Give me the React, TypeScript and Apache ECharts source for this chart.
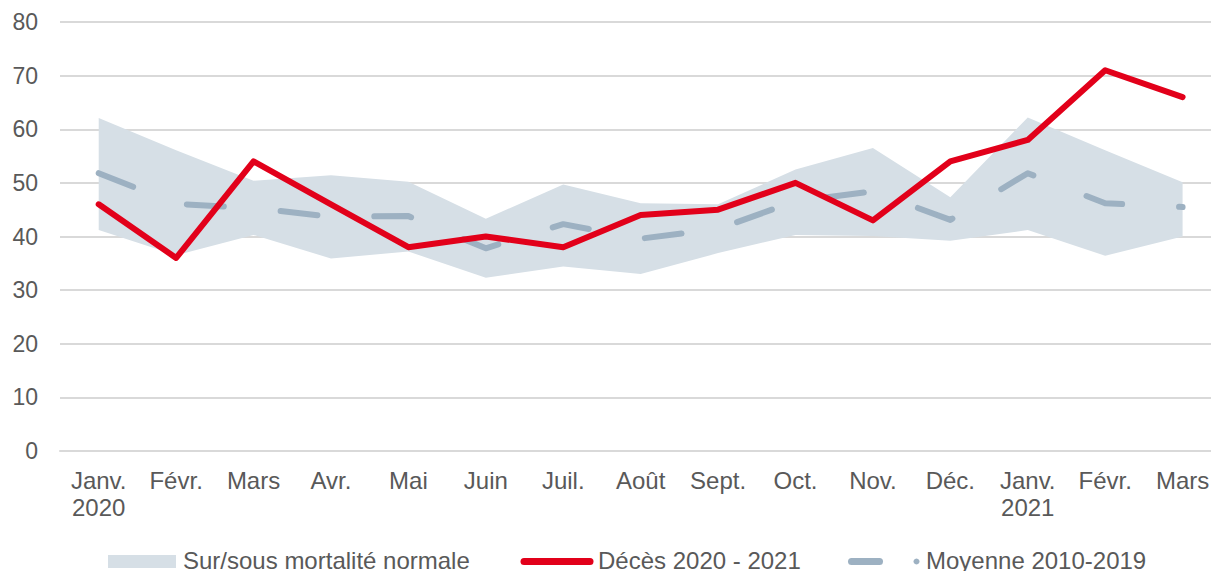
import React, { useEffect, useRef } from "react";
import * as echarts from "echarts";

const categories = [
  "Janv.\n2020", "Févr.", "Mars", "Avr.", "Mai", "Juin", "Juil.", "Août",
  "Sept.", "Oct.", "Nov.", "Déc.", "Janv.\n2021", "Févr.", "Mars",
];
const bandLower = [41.2, 36.5, 40.3, 35.9, 37.2, 32.3, 34.4, 33.0, 36.9, 40.3, 40.1, 39.2, 41.2, 36.4, 40.0];
const bandUpper = [62.1, 56.1, 50.4, 51.4, 50.2, 43.3, 49.7, 46.2, 46.0, 52.5, 56.5, 47.3, 62.2, 56.1, 50.1];
const deaths = [46, 36, 54, 46, 38, 40, 38, 44, 45, 50, 43, 54, 58, 71, 66];
const average = [51.8, 46.1, 45.3, 43.7, 43.8, 37.8, 42.3, 39.6, 41.4, 46.6, 48.4, 43.1, 51.8, 46.2, 45.5];
const legendLabels = ["Sur/sous mortalité normale", "Décès 2020 - 2021", "Moyenne 2010-2019"];

const BAND = "#D6DFE6";
const RED = "#E2001A";
const GREY = "#9DB1C2";
const TEXT = "#595959";
const FONT = "Liberation Sans, Arial, Helvetica, sans-serif";

export default function App() {
  const ref = useRef<HTMLDivElement>(null);
  useEffect(() => {
    if (!ref.current) return;
    const chart = echarts.init(ref.current, undefined, { renderer: "svg" });
    const diff = bandUpper.map((u, i) => +(u - bandLower[i]).toFixed(2));
    chart.setOption({
      animation: false,
      textStyle: { fontFamily: FONT },
      grid: { left: 60, top: 22, width: 1161.3, height: 429, containLabel: false },
      xAxis: {
        type: "category",
        data: categories,
        boundaryGap: true,
        axisLine: { lineStyle: { color: "#D9D9D9", width: 2 } },
        axisTick: { inside: true, length: 7, lineStyle: { color: "#D9D9D9", width: 1.5 } },
        axisLabel: {
          interval: 0,
          color: TEXT,
          fontSize: 24,
          lineHeight: 27,
          margin: 16,
          fontFamily: FONT,
        },
        splitLine: { show: false },
      },
      yAxis: {
        type: "value",
        min: 0,
        max: 80,
        interval: 10,
        axisLine: { show: false },
        axisTick: { show: false },
        axisLabel: { color: TEXT, fontSize: 23, margin: 22, fontFamily: FONT },
        splitLine: { lineStyle: { color: "#D9D9D9", width: 2 } },
      },
      series: [
        {
          type: "line",
          data: bandLower,
          stack: "band",
          symbol: "none",
          lineStyle: { width: 0, opacity: 0 },
          areaStyle: { opacity: 0 },
          z: 1,
        },
        {
          type: "line",
          data: diff,
          stack: "band",
          symbol: "none",
          lineStyle: { width: 0, opacity: 0 },
          areaStyle: { color: BAND, opacity: 1 },
          z: 1,
        },
        {
          type: "line",
          data: average,
          symbol: "none",
          lineStyle: { color: GREY, width: 6, type: [37, 57], cap: "round", join: "round" },
          z: 3,
        },
        {
          type: "line",
          data: deaths,
          symbol: "none",
          lineStyle: { color: RED, width: 6, cap: "round", join: "round" },
          z: 4,
        },
      ],
      graphic: [
        { type: "rect", shape: { x: 108, y: 555, width: 68, height: 13 }, style: { fill: BAND } },
        {
          type: "text",
          x: 183,
          y: 560,
          style: { text: legendLabels[0], fill: TEXT, font: `24px ${FONT}`, verticalAlign: "middle" },
        },
        {
          type: "line",
          shape: { x1: 524, y1: 561.5, x2: 590, y2: 561.5 },
          style: { stroke: RED, lineWidth: 7, lineCap: "round" },
        },
        {
          type: "text",
          x: 598,
          y: 560,
          style: { text: legendLabels[1], fill: TEXT, font: `24px ${FONT}`, verticalAlign: "middle" },
        },
        {
          type: "line",
          shape: { x1: 851.5, y1: 561.5, x2: 879.5, y2: 561.5 },
          style: { stroke: GREY, lineWidth: 7, lineCap: "round" },
        },
        { type: "circle", shape: { cx: 916.5, cy: 561.5, r: 3 }, style: { fill: GREY } },
        {
          type: "text",
          x: 926,
          y: 560,
          style: { text: legendLabels[2], fill: TEXT, font: `24px ${FONT}`, verticalAlign: "middle" },
        },
      ],
    });
    return () => chart.dispose();
  }, []);
  return (
    <div
      style={{
        position: "fixed",
        left: 0,
        top: 0,
        width: 1211,
        height: 571,
        overflow: "hidden",
        background: "#fff",
      }}
    >
      <div ref={ref} style={{ width: 1240, height: 571 }} />
    </div>
  );
}
